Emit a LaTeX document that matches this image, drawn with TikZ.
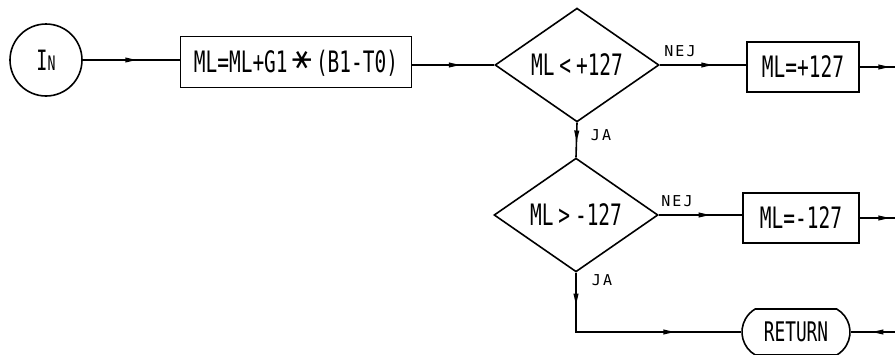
\documentclass[tikz,border=0pt]{standalone}
\usepackage{fontspec}
\usetikzlibrary{shapes.geometric,shapes.misc,decorations.markings}
\newfontfamily\plotfont[FakeStretch=0.66]{DejaVu Sans Mono}
\newfontfamily\lblfont[LetterSpace=14]{DejaVu Sans Mono}
\newfontfamily\symfont{DejaVu Sans}
\tikzset{
  ln/.style={line width=1.6pt},
  marr/.style={postaction={decorate,decoration={markings,mark=at position #1 with {\fill (5pt,0pt) -- (-6pt,2.6pt) -- (-6pt,-2.6pt) -- cycle;}}}},
  boxnode/.style={draw,line width=1.6pt,rectangle,inner sep=0pt,font=\plotfont\fontsize{29.5}{29.5}\selectfont},
  decnode/.style={draw,line width=1.6pt,diamond,inner sep=0pt,minimum width=164pt,minimum height=111pt,font=\plotfont\fontsize{29.5}{29.5}\selectfont},
  lbl/.style={font=\lblfont\fontsize{15}{15}\selectfont,inner sep=0pt},
}
\begin{document}
\begin{tikzpicture}[x=1pt,y=-1pt]
\useasboundingbox (0,0) rectangle (895,354);
\node[draw,circle,line width=1.6pt,minimum size=72pt,inner sep=0pt,font=\plotfont] (in) at (46,60) {\fontsize{28}{28}\selectfont I\fontsize{20}{20}\selectfont N};
\node[boxnode,minimum width=231pt,minimum height=51pt] (b1) at (296,62) {ML=ML+G1\,\rotatebox{90}{\symfont ∗}\,(B1-T0)};
\node[decnode] (d1) at (577,65) {ML\,<\,+127};
\node[boxnode,minimum width=112pt,minimum height=50pt] (b2) at (803,67) {ML=+127};
\node[decnode] (d2) at (576,215) {ML\,>\,-127};
\node[boxnode,minimum width=116pt,minimum height=50pt] (b3) at (801,218) {ML=-127};
\node[draw,line width=1.6pt,rounded rectangle,rounded rectangle arc length=120,inner sep=0pt,minimum width=108pt,minimum height=46pt,font=\plotfont\fontsize{27}{27}\selectfont] (ret) at (796,332) {RETURN};
\coordinate (e1) at (895,67);
\coordinate (e2) at (895,218);
\coordinate (e3) at (895,332);
\node[lbl] (n1) at (680,51) {NEJ};
\node[lbl] (n2) at (677,201) {NEJ};
\node[lbl] (j1) at (601,135) {JA};
\node[lbl] (j2) at (602,280) {JA};
\draw[ln,marr=0.5] (in.east) -- (in.east-|b1.west);
\draw[ln,marr=0.52] (b1.east|-d1.west) -- (d1.west);
\draw[ln,marr=0.55] (d1.east) -- (b2.west|-d1.east);
\draw[ln,marr=0.7] (b2.east) -- (e1);
\draw[ln,marr=0.4] (d1.south) -- (d2.north);
\draw[ln,marr=0.55] (d2.east) -- (b3.west|-d2.east);
\draw[ln,marr=0.7] (b3.east) -- (e2);
\draw[ln,marr=0.12,marr=0.68] (d2.south) |- (ret.west);
\draw[ln,marr=0.4] (e3) -- (ret.east);
\end{tikzpicture}
\end{document}
